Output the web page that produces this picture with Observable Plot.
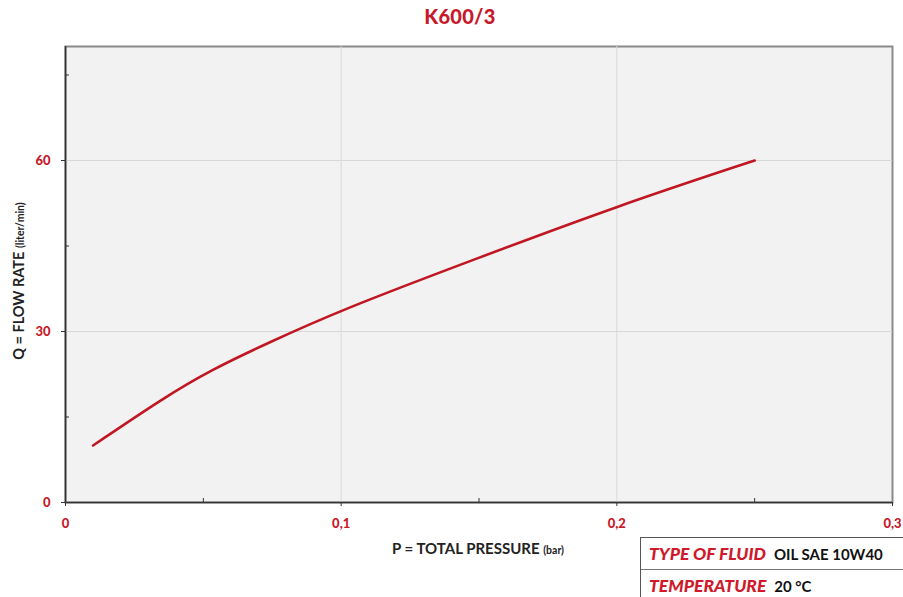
<!DOCTYPE html>
<html>
<head>
<meta charset="utf-8">
<script src="https://cdn.jsdelivr.net/npm/d3@7"></script>
<script src="https://cdn.jsdelivr.net/npm/@observablehq/plot@0.6"></script>
<style>
  body { margin: 0; background: #fff; font-family: Lato, "Open Sans", sans-serif; }
  #wrap { position: relative; width: 903px; height: 597px; overflow: hidden; }
  #title { position: absolute; left: 0; width: 920px; top: 4px; text-align: center; color: #c8192a; font-weight: 900; font-size: 20px; letter-spacing: 0.3px; }
  #ylab { position: absolute; left: 18px; top: 281px; transform: translate(-50%, -50%) rotate(-90deg); white-space: nowrap; font-weight: 700; font-size: 14.5px; color: #222; }
  #xlab { position: absolute; left: 478px; top: 548px; transform: translate(-50%, -50%); white-space: nowrap; font-weight: 700; font-size: 15px; color: #222; }
  .small { font-size: 10.5px; }
  #tbl { position: absolute; left: 640px; top: 537px; width: 280px; height: 80px; border: 1.5px solid #555; box-sizing: border-box; }
  .row { height: 31px; display: flex; align-items: center; padding-left: 8px; border-bottom: 1.5px solid #777; }
  .k { color: #d0192b; font-weight: 900; font-style: italic; font-size: 17.5px; margin-right: 8px; }
  .v { color: #111; font-weight: 700; font-size: 15px; }
</style>
</head>
<body>
<div id="wrap">
  <div id="chart"></div>
  <div id="title">K600/3</div>
  <div id="ylab">Q = FLOW RATE <span class="small">(liter/min)</span></div>
  <div id="xlab">P = TOTAL PRESSURE <span class="small">(bar)</span></div>
  <div id="tbl">
    <div class="row"><span class="k">TYPE OF FLUID</span><span class="v">OIL SAE 10W40</span></div>
    <div class="row"><span class="k">TEMPERATURE</span><span class="v">20 °C</span></div>
  </div>
</div>
<script>
const pressure = [0.01, 0.036, 0.053, 0.073, 0.10, 0.148, 0.20, 0.25];
const flow     = [10,   18.5,  23.3,  27.9,  33.8, 42.6,  52.0, 60];
const xTicks = [0, 0.1, 0.2, 0.3];
const xMinor = [0.05, 0.15, 0.25];
const yTicks = [0, 30, 60];
const yMinor = [15, 45, 75];

const data = pressure.map((p, i) => ({p, q: flow[i]}));
const red = "#c8192a";

const chart = Plot.plot({
  width: 903,
  height: 597,
  marginLeft: 65,
  marginRight: 11,
  marginTop: 46,
  marginBottom: 95,
  style: {fontFamily: "Lato, 'Open Sans', sans-serif", background: "transparent"},
  x: {domain: [0, 0.3]},
  y: {domain: [0, 80]},
  marks: [
    Plot.frame({fill: "#f2f2f2", stroke: "#8a8a8a", strokeWidth: 2}),
    Plot.ruleX(xTicks.slice(1, 3), {stroke: "#d8d8d8", strokeWidth: 1}),
    Plot.ruleY(yTicks.slice(1), {stroke: "#d8d8d8", strokeWidth: 1}),
    Plot.ruleX([0], {stroke: "#333", strokeWidth: 1.6}),
    Plot.ruleY([0], {stroke: "#333", strokeWidth: 1.6}),
    Plot.axisX({ticks: xTicks, tickSize: 4, tickPadding: 12, tickFormat: d => String(d).replace(".", ","), fill: red, fontWeight: 900, fontSize: 13, stroke: "#333", label: null}),
    Plot.axisX({ticks: xMinor, tickSize: -4, tickFormat: () => "", stroke: "#333", label: null}),
    Plot.axisY({ticks: yTicks, tickSize: 4, tickPadding: 11, fill: red, fontWeight: 900, fontSize: 13, stroke: "#333", label: null}),
    Plot.axisY({ticks: yMinor, tickSize: -4, tickFormat: () => "", stroke: "#333", label: null}),
    Plot.line(data, {x: "p", y: "q", curve: "basis", stroke: "#c01722", strokeWidth: 2.6})
  ]
});
document.getElementById("chart").append(chart);
</script>
</body>
</html>
